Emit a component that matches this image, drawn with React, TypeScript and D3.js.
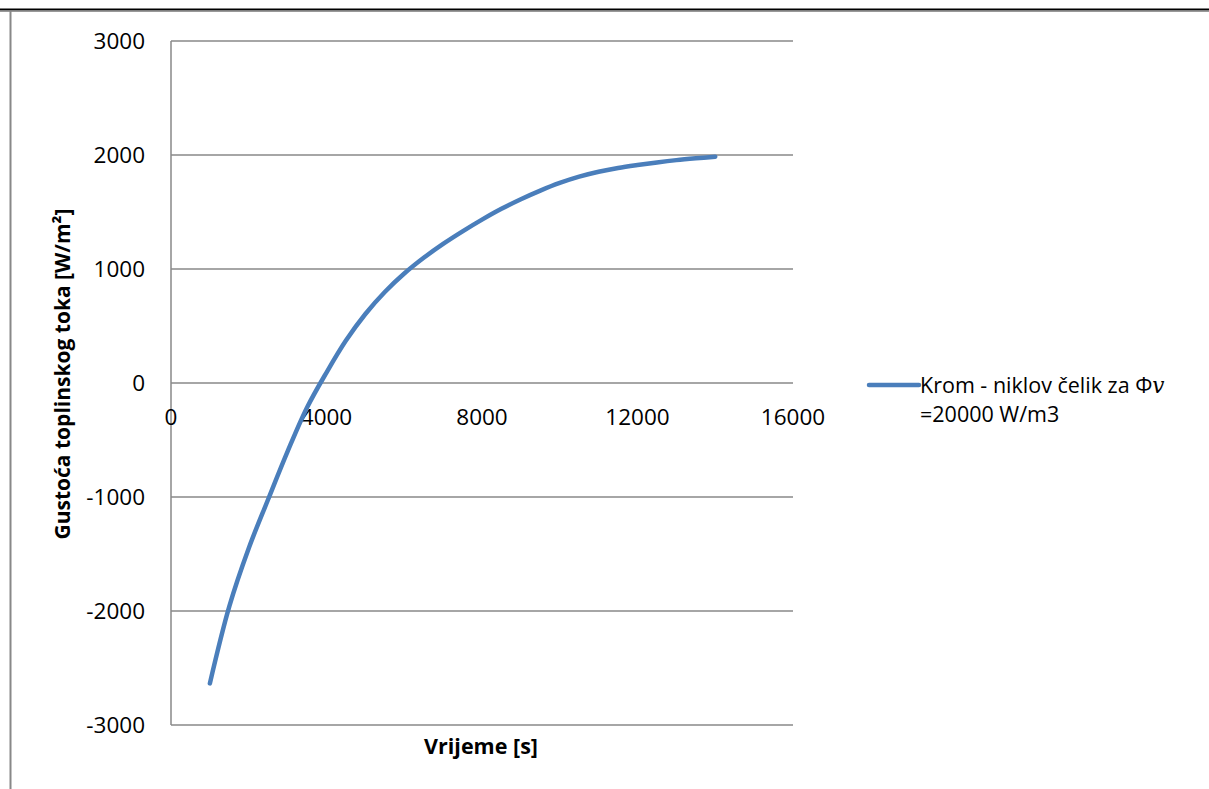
import React from "react";
import * as d3 from "d3";

const timeS: number[] = [1000, 1500, 2000, 2500, 3000, 3500, 4000, 4500, 5000, 5500, 6000, 6500, 7000, 7500, 8000, 8500, 9000, 9500, 10000, 10500, 11000, 11500, 12000, 12500, 13000, 13500, 14000];
const fluxW: number[] = [-2635, -1960, -1450, -1020, -600, -215, 92, 372, 605, 798, 960, 1098, 1220, 1330, 1433, 1528, 1612, 1688, 1755, 1810, 1853, 1886, 1912, 1935, 1955, 1971, 1985];

const xTicks: number[] = [0, 4000, 8000, 12000, 16000];
const yTicks: number[] = [-3000, -2000, -1000, 0, 1000, 2000, 3000];

const seriesName1 = "Krom - niklov čelik za Φ";
const seriesVar = "v";
const seriesName2 = "=20000 W/m3";
const xTitle = "Vrijeme [s]";
const yTitle = "Gustoća toplinskog toka [W/m²]";

const FONT = "'Open Sans', 'Noto Sans', sans-serif";
const BLUE = "#4A7EBB";
const GRID = "#888888";

export default function App() {
  const x = d3.scaleLinear().domain([0, 16000]).range([171, 793]);
  const y = d3.scaleLinear().domain([-3000, 3000]).range([725, 41]);
  const data = timeS.map((t, i) => [t, fluxW[i]] as [number, number]);
  const line = d3
    .line<[number, number]>()
    .x((d) => x(d[0]))
    .y((d) => y(d[1]))
    .curve(d3.curveCatmullRom.alpha(0.5));

  return (
    <svg
      width={1209}
      height={789}
      style={{ position: "absolute", left: 0, top: 0, display: "block", background: "#fff" }}
      fontFamily={FONT}
    >
      {/* page header rule */}
      <line x1={0} x2={1209} y1={9.5} y2={9.5} stroke="#000" strokeWidth={2} />
      <line x1={0} x2={1209} y1={11.5} y2={11.5} stroke="#999" strokeWidth={1} />
      {/* chart outer border */}
      <line x1={10.5} x2={10.5} y1={11} y2={789} stroke={GRID} strokeWidth={2} />

      {/* gridlines */}
      {yTicks.map((v) => (
        <line key={"g" + v} x1={x(0)} x2={x(16000)} y1={y(v)} y2={y(v)} stroke={GRID} strokeWidth={1.5} />
      ))}
      {/* vertical axis */}
      <line x1={x(0)} x2={x(0)} y1={y(3000)} y2={y(-3000)} stroke={GRID} strokeWidth={1.5} />

      {/* y tick labels */}
      {yTicks.map((v) => (
        <text key={"yl" + v} x={145} y={y(v) + 8} textAnchor="end" fontSize={22.5} fill="#000">
          {v}
        </text>
      ))}
      {/* x tick labels */}
      {xTicks.map((v) => (
        <text key={"xl" + v} x={x(v)} y={425} textAnchor="middle" fontSize={22.5} fill="#000">
          {v}
        </text>
      ))}

      {/* series */}
      <path d={line(data) || ""} fill="none" stroke={BLUE} strokeWidth={4.5} strokeLinecap="round" strokeLinejoin="round" />

      {/* axis titles */}
      <text x={481} y={754} textAnchor="middle" fontSize={21.5} fontWeight="bold" fill="#000">
        {xTitle}
      </text>
      <text
        transform={`translate(70,374) rotate(-90)`}
        textAnchor="middle"
        fontSize={21}
        fontWeight="bold"
        fill="#000"
      >
        {yTitle}
      </text>

      {/* legend */}
      <line x1={869} x2={919} y1={385} y2={385} stroke={BLUE} strokeWidth={4.5} strokeLinecap="round" />
      <text x={920} y={393} fontSize={21.5} fill="#000">
        {seriesName1}
        <tspan fontFamily="'DejaVu Serif', serif" fontStyle="italic">{seriesVar}</tspan>
      </text>
      <text x={920} y={422} fontSize={21.5} fill="#000">
        {seriesName2}
      </text>
    </svg>
  );
}
